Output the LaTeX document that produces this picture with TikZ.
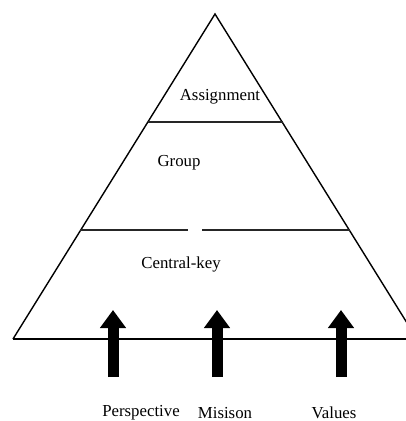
\documentclass[tikz,border=0pt]{standalone}
\usepackage{fontspec}
\setmainfont{Liberation Serif}
\usetikzlibrary{arrows.meta}

\tikzset{
    layerline/.style={line width=2.3pt, black!85},
    pushup/.style={line width=11pt, -{Triangle[width=25pt, length=18pt]}},
    layerlabel/.style={font=\fontsize{16.8}{19}\selectfont, inner sep=0pt}
}

\begin{document}
\begin{tikzpicture}[x=1pt, y=-1pt]

    % === FRAME (pixel units, y downwards) ===
    \useasboundingbox (0,0) rectangle (406,421);
    \clip (0,0) rectangle (406,421);

    % === PYRAMID CORNERS ===
    \coordinate (Apex) at (215,14);
    \coordinate (BaseLeft) at (13,339);
    \coordinate (BaseRight) at (417,339);
    \coordinate (BaseEnd) at (406,339);

    % Outline of the pyramid
    \draw[line width=1.4pt] (BaseLeft) -- (Apex) -- (BaseRight);
    \draw[line width=1.4pt] (BaseLeft) -- (BaseEnd);

    % === LAYER DIVIDERS ===
    \draw[layerline] (148,122) -- (283,122);
    \draw[layerline] (80,230) -- (188,230);
    \draw[layerline] (202,230) -- (350,230);

    % === LAYER LABELS ===
    \node[layerlabel] (assign) at (220,97) {Assignment};
    \node[layerlabel] (group) at (179,163) {Group};
    \node[layerlabel] (central) at (181,264) {Central-key};

    % === FOUNDATION ARROWS & LABELS ===
    \foreach \name/\xpos/\lx/\txt in {persp/113/141/Perspective, mission/217/225/Misison, values/341/334/Values} {
        \coordinate (\name Foot) at (\xpos,377);
        \coordinate (\name Tip) at (\xpos,310);
        \draw[pushup] (\name Foot) -- (\name Tip);
        \node[layerlabel] (\name) at (\lx,413) {\txt};
    }

\end{tikzpicture}
\end{document}
